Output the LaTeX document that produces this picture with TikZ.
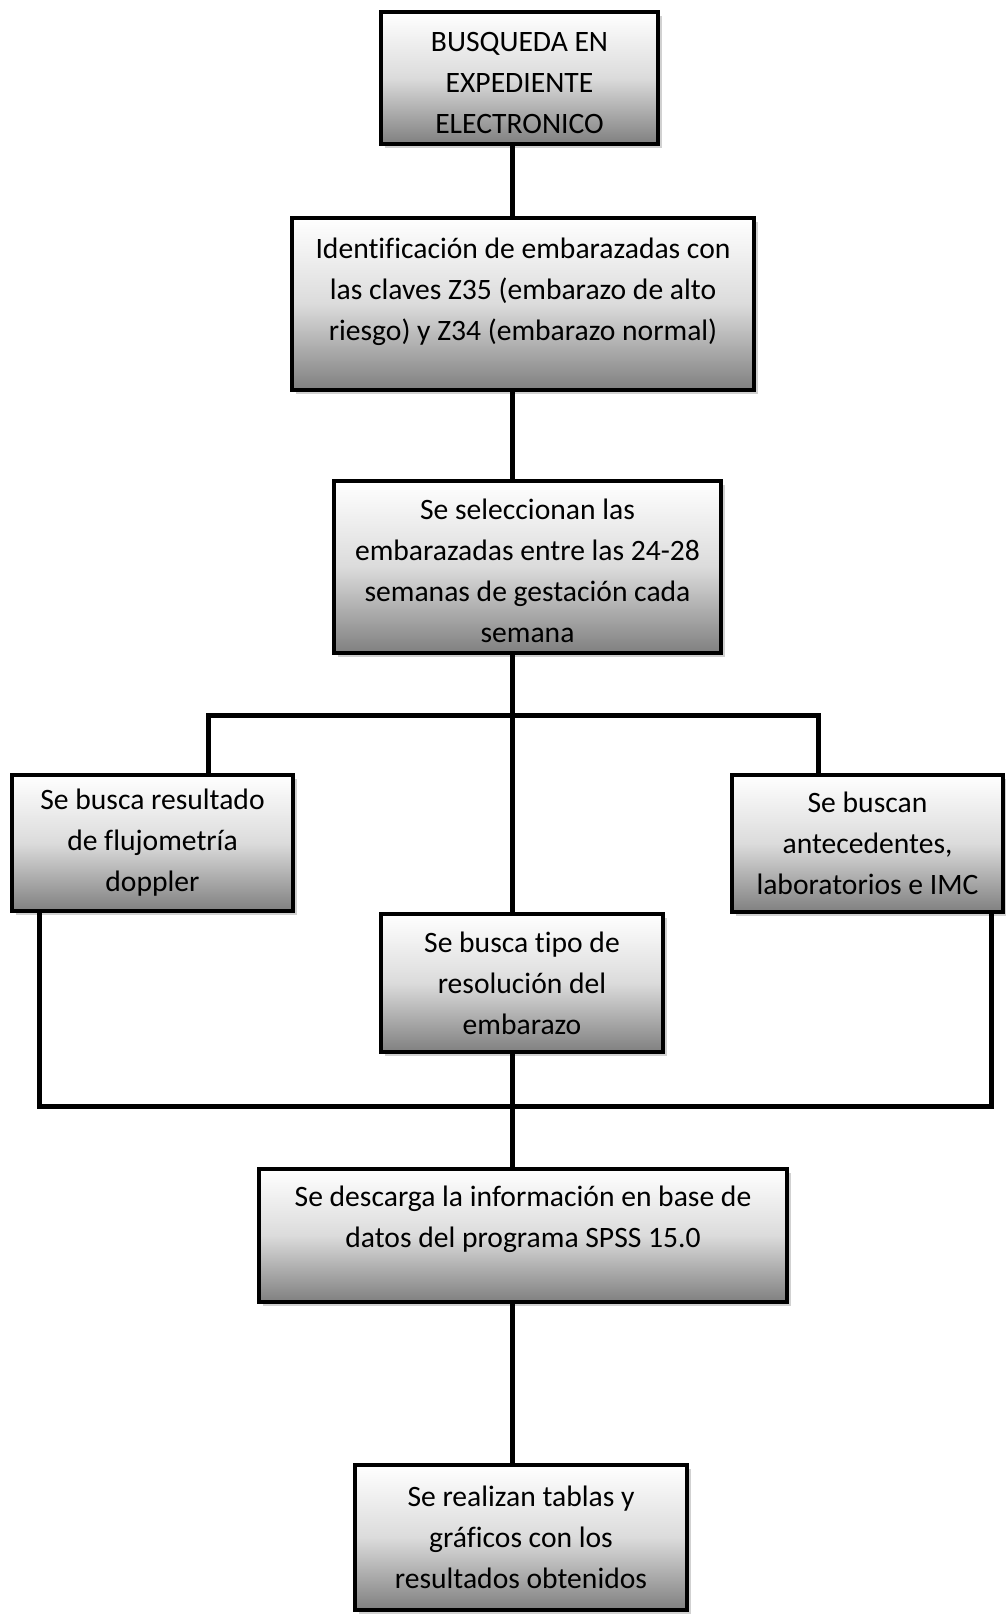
\documentclass[tikz,border=0pt]{standalone}
\usepackage{fontspec}
\setmainfont[Ligatures=NoCommon]{Carlito}
\usepackage{tikz}
\usetikzlibrary{shadows}

% texto centrado dentro de una caja de ancho y alto fijos
\newcommand{\txtcaja}[3]{\parbox[c][#2][c]{#1}{\centering #3\par}}

\begin{document}
\begin{tikzpicture}[x=0.75pt, y=-0.75pt, inner sep=0pt,
    paso/.style={draw=black, line width=3pt, top color=white, bottom color=black!50, middle color=black!14,
      drop shadow={shadow xshift=3pt, shadow yshift=-3pt, opacity=0.3, fill=black!60},
      font=\fontsize{22.2}{30.75}\selectfont},
    linea/.style={line width=3.75pt}]

  \useasboundingbox (0,0) rectangle (1006,1614);

  \node[paso] (busq) at (519.5,78) {\txtcaja{207.75pt}{99pt}{\vspace*{8pt}BUSQUEDA EN\\EXPEDIENTE\\ELECTRONICO}};
  \node[paso] (ident) at (523,304) {\txtcaja{346.5pt}{129pt}{Identificación de embarazadas con\\las claves Z35 (embarazo de alto\\riesgo) y Z34 (embarazo normal)\par\vspace{18.5pt}}};
  \node[paso] (selec) at (527.5,567) {\txtcaja{290.25pt}{129pt}{\vspace*{6pt}Se seleccionan las\\embarazadas entre las 24-28\\semanas de gestación cada\\semana}};
  \node[paso] (flujo) at (152.5,843) {\txtcaja{210.75pt}{102pt}{Se busca resultado\\de flujometría\\doppler}};
  \node[paso] (antec) at (867.5,843.5) {\txtcaja{203.25pt}{102.75pt}{Se buscan\\antecedentes,\\laboratorios e IMC}};
  \node[paso] (resol) at (522,983) {\txtcaja{211.5pt}{103.5pt}{Se busca tipo de\\resolución del\\embarazo}};
  \node[paso] (desc) at (523,1235.5) {\txtcaja{396pt}{99.75pt}{Se descarga la información en base de\\datos del programa SPSS 15.0\par\vspace{24pt}}};
  \node[paso] (tabl) at (521,1537.5) {\txtcaja{249pt}{108.75pt}{Se realizan tablas y\\gráficos con los\\resultados obtenidos}};

  \coordinate (eje) at (512,715);
  \coordinate (ramai) at (208,715);
  \coordinate (ramad) at (818,715);
  \coordinate (unei) at (39,1106);
  \coordinate (uned) at (991,1106);

  \draw[linea] (busq.south -| eje) -- (ident.north -| eje);
  \draw[linea] (ident.south -| eje) -- (selec.north -| eje);
  \draw[linea] (selec.south -| eje) -- (resol.north -| eje);
  \draw[linea] (flujo.north -| ramai) -- (ramai) -- (ramad) -- (antec.north -| ramad);
  \draw[linea] (flujo.south -| unei) -- (unei) -- (uned) -- (antec.south -| uned);
  \draw[linea] (resol.south -| eje) -- (desc.north -| eje);
  \draw[linea] (desc.south -| eje) -- (tabl.north -| eje);
\end{tikzpicture}
\end{document}
